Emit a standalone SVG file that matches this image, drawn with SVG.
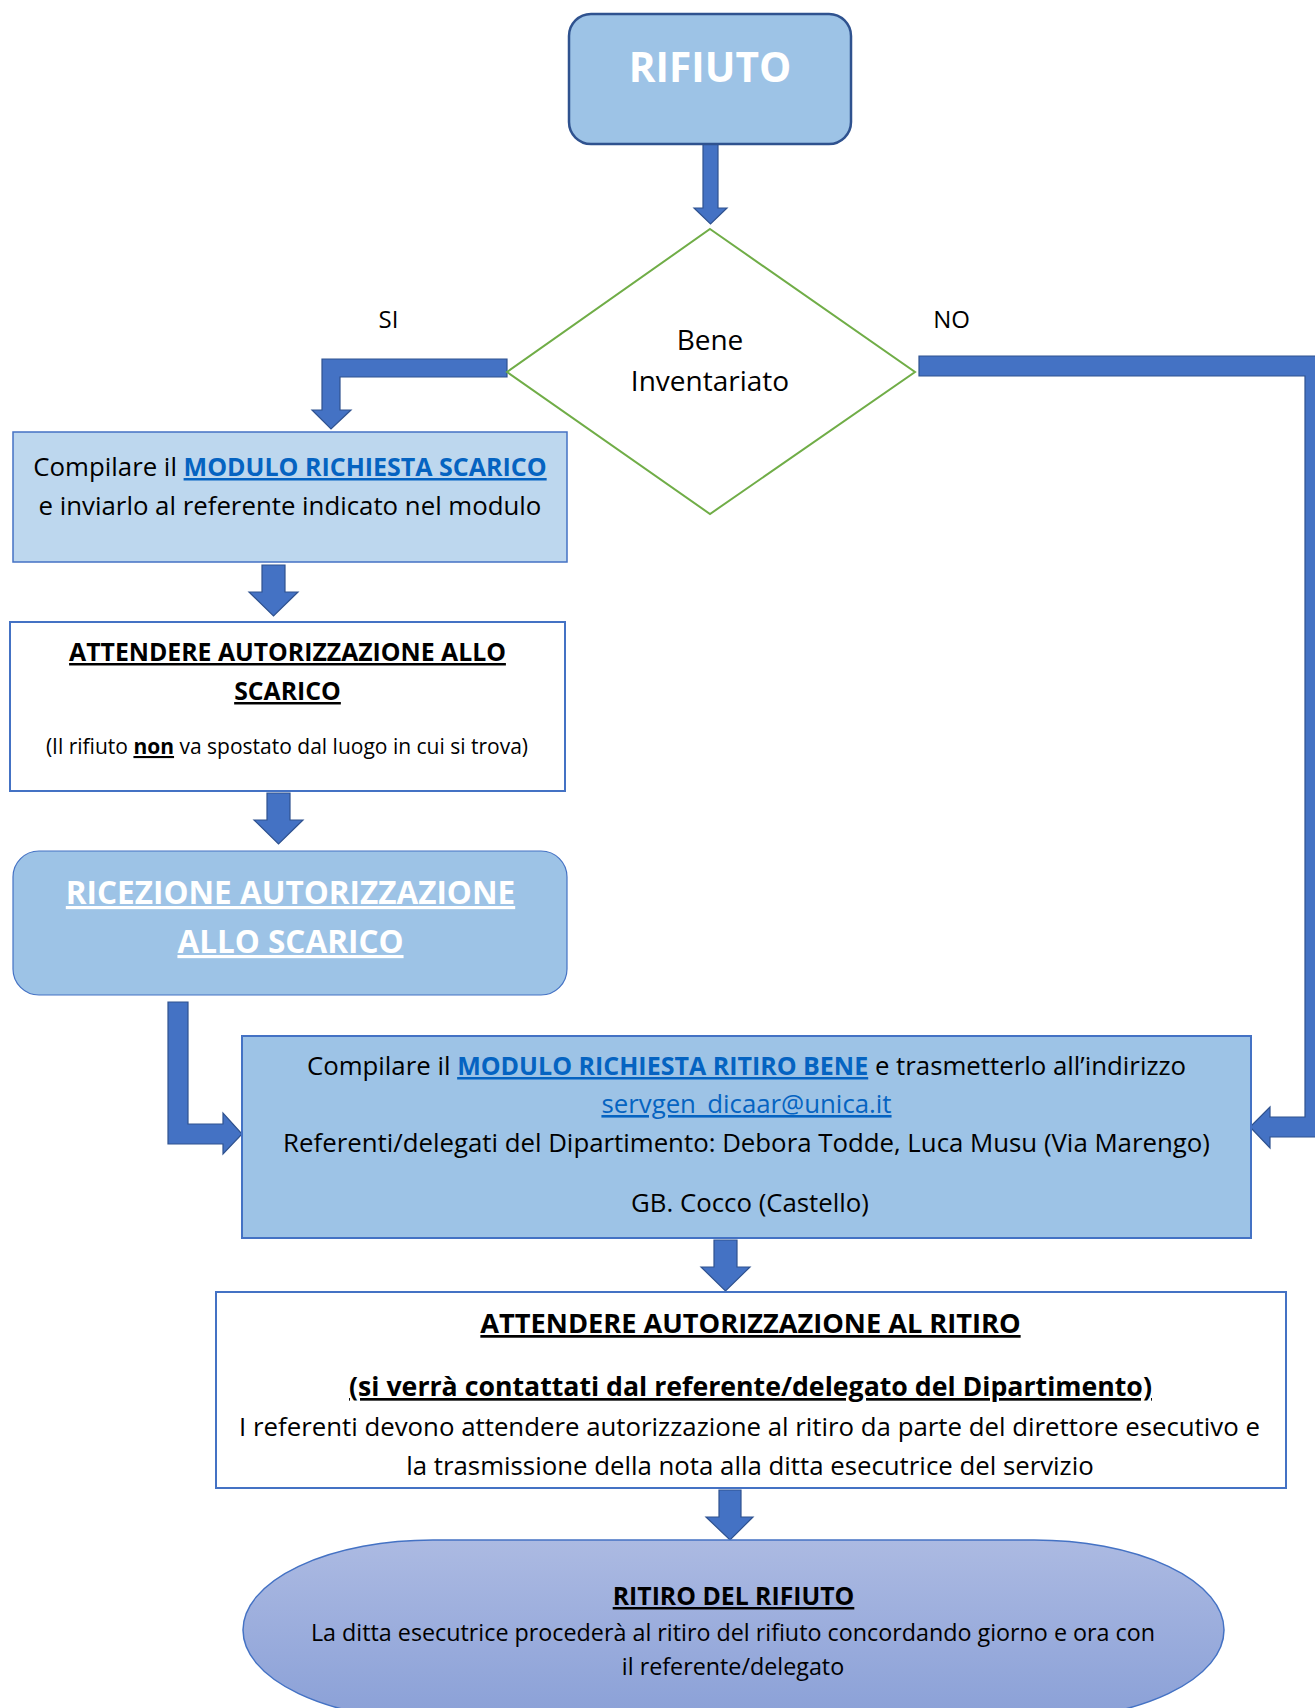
<svg xmlns="http://www.w3.org/2000/svg" width="1315" height="1708" viewBox="0 0 1315 1708">
<defs>
<linearGradient id="gEll" x1="0" y1="0" x2="0" y2="1">
<stop offset="0" stop-color="#ACBAE2"/>
<stop offset="1" stop-color="#8AA0D7"/>
</linearGradient>
</defs>
<style>
text{font-family:"Open Sans","Noto Sans","Liberation Sans",sans-serif;fill:#000;text-anchor:middle}
.n{font-size:25.8px}
.b{font-weight:bold}
.u{text-decoration:underline}
.lk{fill:#0563C1;text-decoration:underline}
.w{fill:#FFFFFF}
.arrow{fill:#4472C4;stroke:#2F528F;stroke-width:1.2;stroke-linejoin:miter}
.box{stroke:#4472C4;stroke-width:2}
</style>
<rect width="1315" height="1708" fill="#FFFFFF"/>

<g id="connectors">
<polygon class="arrow" points="703,144 718,144 718,208 727,208 710.5,224 694,208 703,208"/>
<polygon class="arrow" points="507,359 322,359 322,410 312,410 331,429 351,410 340,410 340,377 507,377"/>
<polygon class="arrow" points="919,356 1325,356 1325,1137 1270,1137 1270,1148 1250,1127 1270,1107 1270,1117 1305,1117 1305,376 919,376"/>
<polygon class="arrow" points="262,565 285,565 285,592 298,592 273.5,616 249,592 262,592"/>
<polygon class="arrow" points="267,793 290,793 290,820 303,820 278.5,844 254,820 267,820"/>
<polygon class="arrow" points="168,1002 188,1002 188,1124 223,1124 223,1113 242,1134 223,1154 223,1144 168,1144"/>
<polygon class="arrow" points="714,1240 737,1240 737,1267 750,1267 725.5,1291 701,1267 714,1267"/>
<polygon class="arrow" points="719,1490 741,1490 741,1517 753,1517 730,1540 706,1517 719,1517"/>
<text x="388.5" y="328" style="font-size:24px">SI</text>
<text x="951.5" y="328" style="font-size:24px">NO</text>
</g>

<g id="rifiuto">
<rect x="569" y="14" width="282" height="130" rx="22" ry="22" fill="#9DC3E6" stroke="#2F528F" stroke-width="2.5"/>
<text x="710" y="82" class="b w" style="font-size:40.6px">RIFIUTO</text>
</g>

<g id="bene-inventariato">
<polygon points="710,229 915,372 710,514 507,372" fill="#FFFFFF" stroke="#70AD47" stroke-width="2"/>
<text x="710" y="350" style="font-size:28px">Bene</text>
<text x="710" y="391" style="font-size:28px">Inventariato</text>
</g>

<g id="modulo-scarico">
<rect x="13" y="432" width="554" height="130" fill="#BDD7EE" stroke="#4472C4" stroke-width="1.5"/>
<text x="290" y="476" class="n">Compilare il <tspan class="b lk" style="font-size:25px">MODULO RICHIESTA SCARICO</tspan></text>
<text x="290" y="515" class="n">e inviarlo al referente indicato nel modulo</text>
</g>

<g id="attendere-scarico">
<rect x="10" y="622" width="555" height="169" fill="#FFFFFF" class="box"/>
<text x="287.5" y="661" class="b u" style="font-size:24.8px">ATTENDERE AUTORIZZAZIONE ALLO</text>
<text x="287.5" y="700" class="b u" style="font-size:24.8px">SCARICO</text>
<text x="287" y="754" style="font-size:21px">(Il rifiuto <tspan class="b u">non</tspan> va spostato dal luogo in cui si trova)</text>
</g>

<g id="ricezione">
<rect x="13" y="851" width="554" height="144" rx="26" ry="26" fill="#9DC3E6" stroke="#4472C4" stroke-width="1.2"/>
<text x="290.5" y="904" class="b w u" style="font-size:31.5px">RICEZIONE AUTORIZZAZIONE</text>
<text x="290.5" y="953" class="b w u" style="font-size:31.5px">ALLO SCARICO</text>
</g>

<g id="modulo-ritiro">
<rect x="242" y="1036" width="1009" height="202" fill="#9DC3E6" class="box"/>
<text x="746.5" y="1075" class="n">Compilare il <tspan class="b lk" style="font-size:25px">MODULO RICHIESTA RITIRO BENE</tspan> e trasmetterlo all’indirizzo</text>
<text x="746.5" y="1113" class="n"><tspan class="lk">servgen_dicaar@unica.it</tspan></text>
<text x="746.5" y="1152" class="n">Referenti/delegati del Dipartimento: Debora Todde, Luca Musu (Via Marengo)</text>
<text x="750" y="1212" class="n">GB. Cocco (Castello)</text>
</g>

<g id="attendere-ritiro">
<rect x="216" y="1292" width="1070" height="196" fill="#FFFFFF" class="box"/>
<text x="750.5" y="1333" class="b u" style="font-size:27.2px">ATTENDERE AUTORIZZAZIONE AL RITIRO</text>
<text x="750.5" y="1396" class="b u" style="font-size:26.7px">(si verrà contattati dal referente/delegato del Dipartimento)</text>
<text x="749.5" y="1436" class="n">I referenti devono attendere autorizzazione al ritiro da parte del direttore esecutivo e</text>
<text x="750" y="1475" class="n">la trasmissione della nota alla ditta esecutrice del servizio</text>
</g>

<g id="ritiro-rifiuto">
<rect x="243" y="1540" width="981" height="180" rx="190" ry="90" fill="url(#gEll)" stroke="#4472C4" stroke-width="1.5"/>
<text x="733.5" y="1605" class="b u" style="font-size:24.8px">RITIRO DEL RIFIUTO</text>
<text x="733" y="1641" style="font-size:23.3px">La ditta esecutrice procederà al ritiro del rifiuto concordando giorno e ora con</text>
<text x="733" y="1675" style="font-size:23.3px">il referente/delegato</text>
</g>
</svg>
